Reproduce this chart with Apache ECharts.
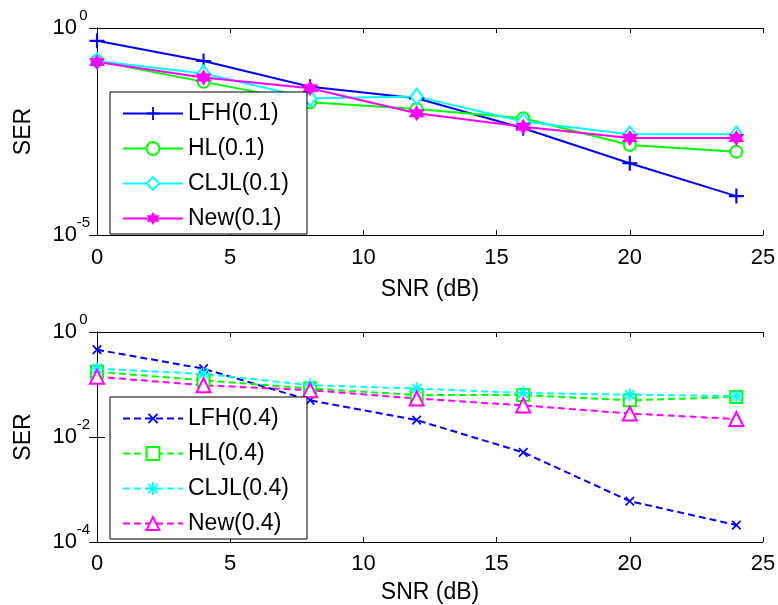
<!DOCTYPE html>
<html>
<head>
<meta charset="utf-8">
<script src="https://cdn.jsdelivr.net/npm/echarts@6/dist/echarts.min.js"></script>
<style>
html,body{margin:0;padding:0;background:#fff;}
#c{width:778px;height:605px;}
</style>
</head>
<body>
<div id="c"></div>
<script>
// ---- data ----
var snr = [0, 4, 8, 12, 16, 20, 24];
var xTicks = [0, 5, 10, 15, 20, 25];
var namesTop = ['LFH(0.1)', 'HL(0.1)', 'CLJL(0.1)', 'New(0.1)'];
var namesBot = ['LFH(0.4)', 'HL(0.4)', 'CLJL(0.4)', 'New(0.4)'];
var lfh01  = [0.49, 0.16, 0.038, 0.020, 0.0038, 0.00054, 0.000087];
var hl01   = [0.16, 0.050, 0.016, 0.011, 0.0066, 0.0015, 0.00103];
var cljl01 = [0.16, 0.080, 0.020, 0.022, 0.0055, 0.0027, 0.0027];
var new01  = [0.15, 0.064, 0.035, 0.0087, 0.0041, 0.0022, 0.0022];
var lfh04  = [0.46, 0.20, 0.050, 0.021, 0.0051, 0.00060, 0.00021];
var hl04   = [0.175, 0.12, 0.084, 0.063, 0.063, 0.050, 0.058];
var cljl04 = [0.20, 0.16, 0.097, 0.084, 0.069, 0.064, 0.060];
var new04  = [0.14, 0.097, 0.078, 0.054, 0.040, 0.028, 0.022];
var yTopTicks = [1, 1e-5];
var yBotTicks = [1, 1e-2, 1e-4];

var FONT = 'Liberation Sans, Arial, Helvetica, sans-serif';
var BLUE = '#0000ff', GREEN = '#00ff00', CYAN = '#00ffff', MAG = '#ff00ff';

var PLUS = 'path://M-1,-7H1V-1H7V1H1V7H-1V1H-7V-1H-1Z';
var HEX = 'path://M0,-7L2,-3.464L6.062,-3.5L4,0L6.062,3.5L2,3.464L0,7L-2,3.464L-6.062,3.5L-4,0L-6.062,-3.5L-2,-3.464Z';
var AST = 'path://M-1,-7H1V7H-1ZM-7,-1H7V1H-7ZM-4.3,-5.7L5.7,4.3L4.3,5.7L-5.7,-4.3ZM-5.7,4.3L4.3,-5.7L5.7,-4.3L-4.3,5.7Z';

function zip(xs, ys) { return xs.map(function (x, i) { return [x, ys[i]]; }); }

function expLabel(v) {
  var e = Math.round(Math.log(v) / Math.LN10);
  return '{b|10}{sup|' + e + '}';
}
var richY = {
  b: { fontSize: 22, fontFamily: FONT, color: '#000', lineHeight: 40 },
  sup: { fontSize: 15, fontFamily: FONT, color: '#000', lineHeight: 15, verticalAlign: 'top', width: 13, align: 'left' }
};

function xAxes(gi, gap, margin) {
  return [{
    type: 'value', gridIndex: gi, min: 0, max: 25, interval: 5, position: 'bottom',
    name: 'SNR (dB)', nameLocation: 'middle', nameGap: gap,
    nameTextStyle: { fontSize: 23, fontFamily: FONT, color: '#000' },
    axisLine: { lineStyle: { color: '#000', width: 1 } },
    axisTick: { inside: true, length: 5, lineStyle: { color: '#000' } },
    axisLabel: { fontSize: 22, fontFamily: FONT, color: '#000', margin: margin },
    splitLine: { show: false }
  }, {
    type: 'value', gridIndex: gi, min: 0, max: 25, interval: 5, position: 'top',
    axisLine: { lineStyle: { color: '#000', width: 1 } },
    axisTick: { inside: true, length: 5, lineStyle: { color: '#000' } },
    axisLabel: { show: false }, splitLine: { show: false }
  }];
}
function yAxes(gi, min, interval) {
  return [{
    type: 'log', gridIndex: gi, min: min, max: 1, interval: interval, logBase: 10, position: 'left',
    name: 'SER', nameLocation: 'middle', nameGap: 62, nameRotate: 90,
    nameTextStyle: { fontSize: 23, fontFamily: FONT, color: '#000' },
    axisLine: { lineStyle: { color: '#000', width: 1 } },
    axisTick: { inside: true, length: 8, lineStyle: { color: '#000' } },
    minorTick: { show: false },
    axisLabel: { formatter: expLabel, rich: richY, margin: 7, fontSize: 22, fontFamily: FONT, color: '#000' },
    splitLine: { show: false }
  }, {
    type: 'log', gridIndex: gi, min: min, max: 1, interval: interval, logBase: 10, position: 'right',
    axisLine: { lineStyle: { color: '#000', width: 1 } },
    axisTick: { inside: true, length: 8, lineStyle: { color: '#000' } },
    axisLabel: { show: false }, splitLine: { show: false }
  }];
}

function ser(name, data, color, symbol, size, dashed, axIdx, extra) {
  var filled = symbol.indexOf('path://') === 0;
  var s = {
    type: 'line', name: name, data: zip(snr, data),
    xAxisIndex: axIdx * 2, yAxisIndex: axIdx * 2,
    symbol: symbol, symbolSize: size, showSymbol: true,
    lineStyle: { color: color, width: 2, type: dashed ? [7, 4] : 'solid' },
    itemStyle: { color: color, borderColor: color, borderWidth: filled ? 0 : 2 },
    emphasis: { disabled: true }, animation: false
  };
  if (extra) for (var k in extra) s[k] = extra[k];
  return s;
}

function legend(names, top) {
  return {
    data: names, left: 110, top: top, orient: 'vertical',
    padding: [10, 18, 4, 12], itemGap: 12, itemWidth: 60, itemHeight: 16,
    backgroundColor: '#fff', borderColor: '#000', borderWidth: 1, borderRadius: 0,
    textStyle: { fontSize: 23, fontFamily: FONT, color: '#000' },
    selectedMode: false
  };
}

var chart = echarts.init(document.getElementById('c'), null, { renderer: 'canvas' });
chart.setOption({
  backgroundColor: '#fff',
  animation: false,
  grid: [
    { left: 97, right: 15, top: 28, height: 207, outerBoundsMode: 'none', containLabel: false },
    { left: 97, right: 15, top: 332, height: 210, outerBoundsMode: 'none', containLabel: false }
  ],
  xAxis: xAxes(0, 43, 12).concat(xAxes(1, 39, 11)),
  yAxis: yAxes(0, 1e-5, 5).concat(yAxes(1, 1e-4, 2)),
  legend: [legend(namesTop, 92), legend(namesBot, 397)],
  series: [
    ser(namesTop[0], lfh01, BLUE, PLUS, 15, false, 0),
    ser(namesTop[1], hl01, GREEN, 'emptyCircle', 12, false, 0),
    ser(namesTop[2], cljl01, CYAN, 'emptyDiamond', [12, 16], false, 0),
    ser(namesTop[3], new01, MAG, HEX, 16, false, 0),
    ser(namesBot[0], lfh04, BLUE, PLUS, 12, true, 1, { symbolRotate: 45 }),
    ser(namesBot[1], hl04, GREEN, 'emptyRect', 12, true, 1),
    ser(namesBot[2], cljl04, CYAN, AST, 13, true, 1),
    ser(namesBot[3], new04, MAG, 'emptyTriangle', 14, true, 1)
  ]
});
</script>
</body>
</html>
